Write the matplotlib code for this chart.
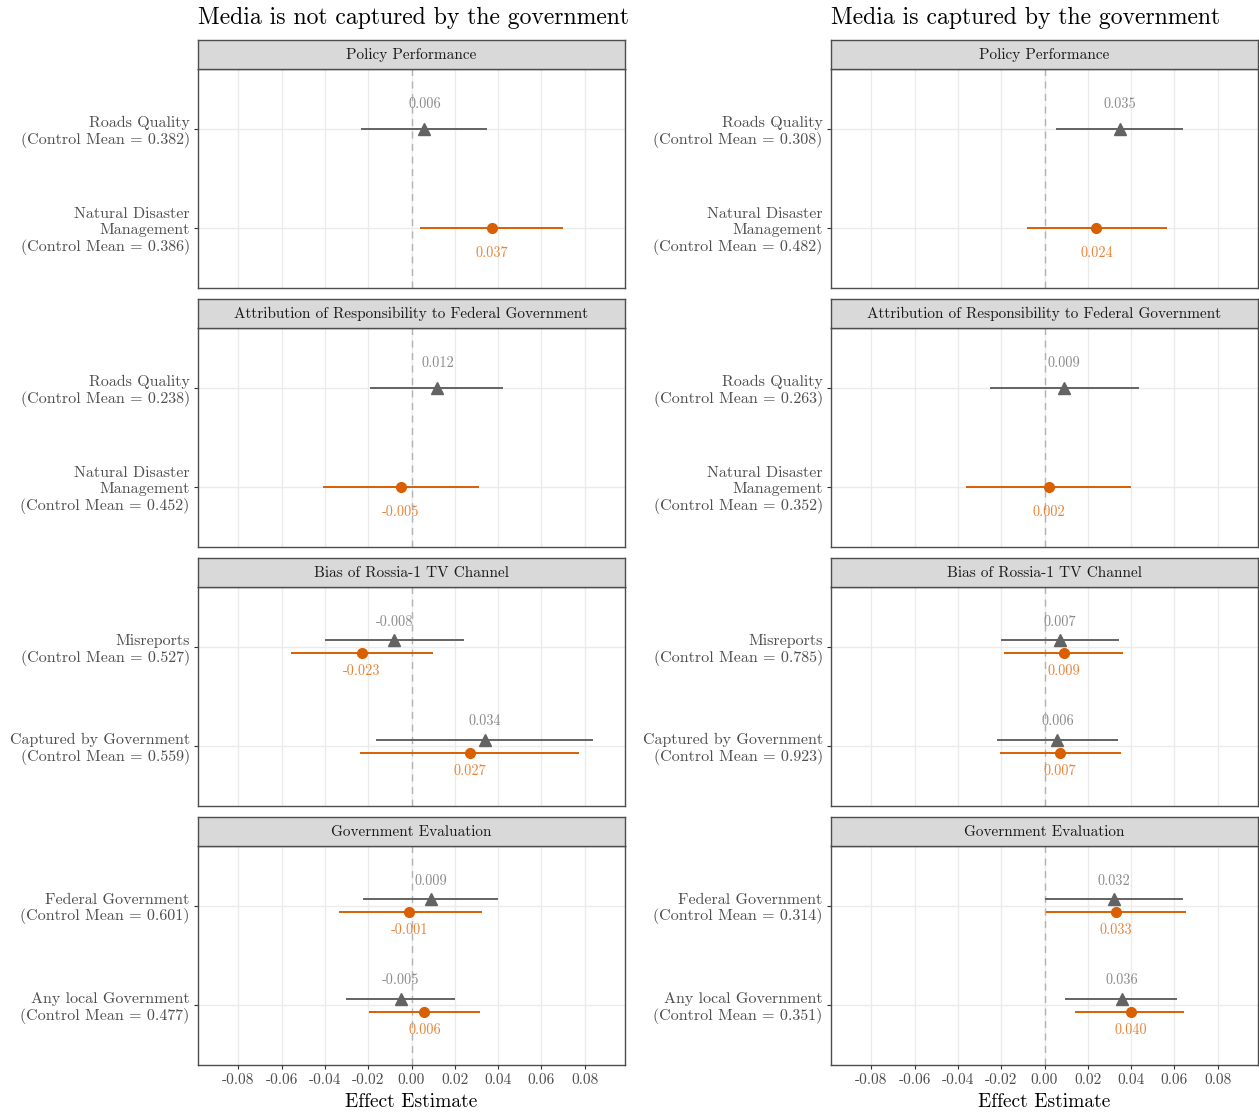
import numpy as np
import matplotlib
matplotlib.use("Agg")
import matplotlib.pyplot as plt

plt.rcParams["font.family"] = ["cmr10", "DejaVu Serif"]
plt.rcParams["axes.formatter.use_mathtext"] = True

nan = np.nan

# Facets and outcomes (top row first)
panels = ["Policy Performance",
          "Attribution of Responsibility to Federal Government",
          "Bias of Rossia-1 TV Channel",
          "Government Evaluation"]
outcomes = [["Roads Quality", "Natural Disaster\nManagement"],
            ["Roads Quality", "Natural Disaster\nManagement"],
            ["Misreports", "Captured by Government"],
            ["Federal Government", "Any local Government"]]

column_titles = ["Media is not captured by the government",
                 "Media is captured by the government"]

# Control means
free_control_mean = [[0.382, 0.386], [0.238, 0.452], [0.527, 0.559], [0.601, 0.477]]
captured_control_mean = [[0.308, 0.482], [0.263, 0.352], [0.785, 0.923], [0.314, 0.351]]

# Media not captured: gray (triangle) series
free_gray_est = [[0.006, nan], [0.012, nan], [-0.008, 0.034], [0.009, -0.005]]
free_gray_lo = [[-0.0232, nan], [-0.0194, nan], [-0.0398, -0.0163], [-0.0222, -0.0305]]
free_gray_hi = [[0.0350, nan], [0.0425, nan], [0.0242, 0.0838], [0.0402, 0.0199]]
# Media not captured: orange (circle) series
free_orange_est = [[nan, 0.037], [nan, -0.005], [-0.023, 0.027], [-0.001, 0.006]]
free_orange_lo = [[nan, 0.0038], [nan, -0.0407], [-0.0555, -0.0236], [-0.0334, -0.0197]]
free_orange_hi = [[nan, 0.0699], [nan, 0.0310], [0.0099, 0.0776], [0.0325, 0.0318]]

# Media captured: gray (triangle) series
capt_gray_est = [[0.035, nan], [0.009, nan], [0.007, 0.006], [0.032, 0.036]]
capt_gray_lo = [[0.0055, nan], [-0.0251, nan], [-0.0202, -0.0219], [0.0002, 0.0097]]
capt_gray_hi = [[0.0638, nan], [0.0435, nan], [0.0345, 0.0341], [0.0640, 0.0614]]
# Media captured: orange (circle) series
capt_orange_est = [[nan, 0.024], [nan, 0.002], [0.009, 0.007], [0.033, 0.040]]
capt_orange_lo = [[nan, -0.0083], [nan, -0.0363], [-0.0185, -0.0205], [0.0008, 0.0143]]
capt_orange_hi = [[nan, 0.0564], [nan, 0.0401], [0.0361, 0.0355], [0.0655, 0.0646]]

x_ticks = [-0.08, -0.06, -0.04, -0.02, 0.00, 0.02, 0.04, 0.06, 0.08]

columns = [
    dict(cm=free_control_mean, g=(free_gray_est, free_gray_lo, free_gray_hi),
         o=(free_orange_est, free_orange_lo, free_orange_hi)),
    dict(cm=captured_control_mean, g=(capt_gray_est, capt_gray_lo, capt_gray_hi),
         o=(capt_orange_est, capt_orange_lo, capt_orange_hi)),
]

GRAY = "#636363"
GRAY_TXT = "#8a8a8a"
ORANGE = "#d95f02"
ORANGE_TXT = "#e8843a"
TXT = "#4d4d4d"
BORDER = "#4d4d4d"

W, H = 1259, 1114
fig = plt.figure(figsize=(W / 100, H / 100), dpi=100)

col_left = [198, 831]
col_width = 427
strip_top = [40, 299, 558, 817]
strip_h = 29
panel_h = 219

def fig_rect(x, y_top, w, h):
    return [x / W, 1 - (y_top + h) / H, w / W, h / H]

row_pos = [2.0, 1.0]
dodge = 0.065
lab_off = 0.25

for c, col in enumerate(columns):
    x0 = col_left[c]
    fig.text(x0 / W, 1 - 18 / H, column_titles[c], ha="left", va="center",
             fontsize=17.1, color="black")
    for p in range(4):
        ax = fig.add_axes(fig_rect(x0, strip_top[p] + strip_h, col_width, panel_h))
        sax = fig.add_axes(fig_rect(x0, strip_top[p], col_width, strip_h))
        sax.set_facecolor("#d9d9d9")
        sax.set_xticks([]); sax.set_yticks([])
        for s in sax.spines.values():
            s.set_color(BORDER); s.set_linewidth(1.0)
        sax.text(0.5, 0.47, panels[p], ha="center", va="center", fontsize=11,
                 color="#1a1a1a", transform=sax.transAxes)

        ax.set_xlim(-0.0987, 0.0987)
        ax.set_ylim(0.4, 2.6)
        ax.set_xticks(x_ticks)
        ax.set_yticks(row_pos)
        ax.grid(True, color="#ebebeb", linewidth=1.0)
        ax.set_axisbelow(True)
        ax.axvline(0, color="#b3b3b3", linewidth=1.0, linestyle=(0, (5, 4)), zorder=1)
        for s in ax.spines.values():
            s.set_color(BORDER); s.set_linewidth(1.0)

        ylabels = [f"{outcomes[p][r]}\n(Control Mean = {col['cm'][p][r]:.3f})" for r in range(2)]
        ax.set_yticklabels(ylabels, fontsize=11.5, color=TXT, linespacing=1.15)
        ax.tick_params(axis="y", length=3, color="#333333", pad=3)
        if p == 3:
            ax.tick_params(axis="x", length=3, color="#333333", pad=3)
            ax.set_xticklabels([f"{v:.2f}" for v in x_ticks], fontsize=11, color=TXT)
            ax.set_xlabel("Effect Estimate", fontsize=14, color="black", labelpad=4)
        else:
            ax.tick_params(axis="x", length=0)
            ax.set_xticklabels([])

        g_est, g_lo, g_hi = col["g"]
        o_est, o_lo, o_hi = col["o"]
        for r in range(2):
            y = row_pos[r]
            both = not np.isnan(g_est[p][r]) and not np.isnan(o_est[p][r])
            if not np.isnan(g_est[p][r]):
                yy = y + (dodge if both else 0)
                ax.plot([g_lo[p][r], g_hi[p][r]], [yy, yy], color=GRAY, lw=1.4,
                        solid_capstyle="butt", zorder=3)
                ax.plot(g_est[p][r], yy, marker="^", ms=9, color=GRAY, zorder=4)
                ax.text(g_est[p][r], y + lab_off, f"{g_est[p][r]:.3f}", ha="center",
                        va="center", fontsize=10.3, color=GRAY_TXT, zorder=5)
            if not np.isnan(o_est[p][r]):
                yy = y - (dodge if both else 0)
                ax.plot([o_lo[p][r], o_hi[p][r]], [yy, yy], color=ORANGE, lw=1.4,
                        solid_capstyle="butt", zorder=3)
                ax.plot(o_est[p][r], yy, marker="o", ms=7, color=ORANGE, zorder=4)
                ax.text(o_est[p][r], y - lab_off, f"{o_est[p][r]:.3f}", ha="center",
                        va="center", fontsize=10.3, color=ORANGE_TXT, zorder=5)

fig.savefig("out.png", dpi=100)
